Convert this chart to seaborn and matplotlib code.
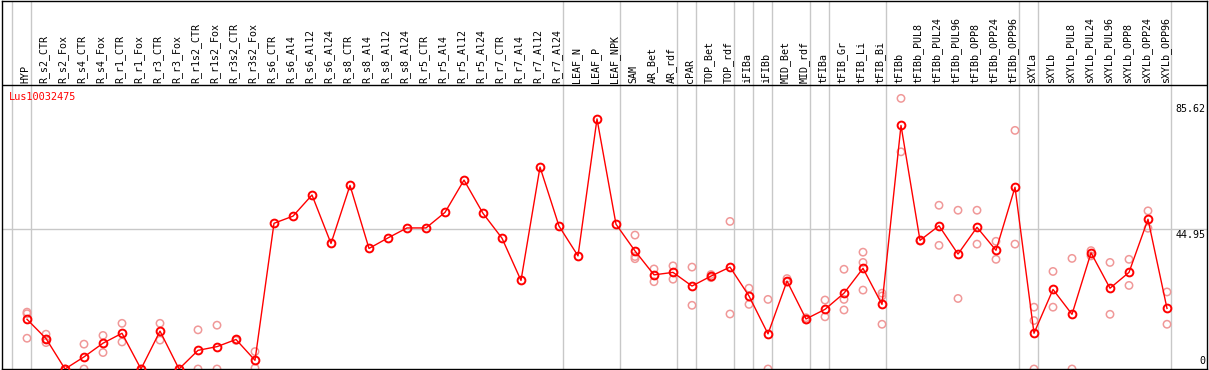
import matplotlib
matplotlib.use("Agg")
import matplotlib.pyplot as plt
import matplotlib.transforms as mtransforms
import numpy as np
import pandas as pd
import seaborn as sns

# ---------------- data ----------------
title = "Lus10032475"
samples = ["HYP", "R_s2_CTR", "R_s2_Fox", "R_s4_CTR", "R_s4_Fox", "R_r1_CTR", "R_r1_Fox",
           "R_r3_CTR", "R_r3_Fox", "R_r1s2_CTR", "R_r1s2_Fox", "R_r3s2_CTR", "R_r3s2_Fox",
           "R_s6_CTR", "R_s6_Al4", "R_s6_Al12", "R_s6_Al24", "R_s8_CTR", "R_s8_Al4",
           "R_s8_Al12", "R_s8_Al24", "R_r5_CTR", "R_r5_Al4", "R_r5_Al12", "R_r5_Al24",
           "R_r7_CTR", "R_r7_Al4", "R_r7_Al12", "R_r7_Al24", "LEAF_N", "LEAF_P", "LEAF_NPK",
           "SAM", "AR_Bet", "AR_rdf", "cPAR", "TOP_Bet", "TOP_rdf", "iFIBa", "iFIBb",
           "MID_Bet", "MID_rdf", "tFIBa", "tFIB_Gr", "tFIB_Li", "tFIB_Bi", "tFIBb",
           "tFIBb_PUL8", "tFIBb_PUL24", "tFIBb_PUL96", "tFIBb_OPP8", "tFIBb_OPP24",
           "tFIBb_OPP96", "sXYLa", "sXYLb", "sXYLb_PUL8", "sXYLb_PUL24", "sXYLb_PUL96",
           "sXYLb_OPP8", "sXYLb_OPP24", "sXYLb_OPP96"]

means = [16.0, 9.8, 0.0, 3.9, 8.3, 11.5, 0.0, 12.2, 0.0, 6.0, 7.2, 9.5, 2.8,
         46.9, 49.2, 56.0, 40.4, 59.1, 38.8, 42.2, 45.4, 45.4, 50.4, 60.8, 50.1,
         42.1, 28.5, 65.0, 46.0, 36.4, 80.5, 46.6,
         38.0, 30.3, 31.1, 26.7, 29.9, 32.8, 23.5, 11.3, 28.3, 16.1, 19.2, 24.4, 32.4, 20.8,
         78.4, 41.4, 46.1, 37.0, 45.6, 38.2, 58.5,
         11.5, 25.6, 17.6, 37.4, 26.0, 31.1, 48.2, 19.5]

replicates = [[18.3, 17.8, 9.9], [11.2, 9.6, 8.5], [0.0, 0.0], [8.0, 0.0], [10.8, 5.3],
              [14.7, 8.7], [0.0], [14.7, 9.3], [0.0], [12.6, 0.0], [14.1, 0.0], [9.2],
              [5.6, 0.3],
              [], [], [], [], [], [], [], [], [], [], [], [], [], [], [], [], [], [], [],
              [43.1, 36.2, 35.5], [32.2, 28.1], [33.2, 28.9], [32.8, 20.5], [30.4, 29.4],
              [47.5, 17.7], [26.0, 20.8], [22.4, 0.0], [29.1, 28.0], [16.5, 15.8],
              [22.2, 16.8], [32.1, 22.4, 19.0], [37.6, 34.3, 25.4], [24.4, 23.5, 14.4],
              [87.1, 69.9], [41.2], [52.7, 39.8], [51.1, 22.7], [51.1, 40.2], [41.1, 35.3],
              [76.8, 40.2],
              [19.9, 15.6, 0.0], [31.4, 19.9], [35.6, 0.0], [38.1, 36.4], [34.3, 17.6],
              [35.3, 26.9], [50.9, 45.3], [24.8, 14.4]]

group_ends = [-1, 0, 28, 31, 34, 35, 37, 38, 39, 41, 42, 45, 52, 53, 60]
ytick_values = [85.62, 44.95, 0]
ytick_labels = ["85.62", "44.95", "0"]

# ---------------- figure ----------------
W, H = 1209, 370
fig = plt.figure(figsize=(W / 100, H / 100), dpi=100)
plt.rcParams["font.family"] = ["DejaVu Sans Mono"]

ax = fig.add_axes([2 / W, 1 / H, 1205 / W, 368.5 / H])
px_per_unit = 3.107
ax.set_xlim((2 - 27) / 19, (1207 - 27) / 19)
ax.set_ylim(0, 368.5 / px_per_unit)
header_y = (369 - 85) / px_per_unit

idx = np.arange(len(samples))
df_mean = pd.DataFrame({"x": idx, "value": means})
rep_x = [i for i, r in enumerate(replicates) for _ in r]
rep_y = [v for r in replicates for v in r]
df_rep = pd.DataFrame({"x": rep_x, "value": rep_y})

# separators and grid
for g in group_ends:
    ax.axvline(g + 0.2, color="#c8c8c8", lw=1, zorder=0)
ax.plot([ax.get_xlim()[0], ax.get_xlim()[1]], [44.95, 44.95], color="#c8c8c8", lw=1, zorder=0)
ax.axhline(header_y, color="black", lw=1, zorder=3)

# replicates
sns.scatterplot(data=df_rep, x="x", y="value", ax=ax, marker="o", s=28,
                facecolors="none", edgecolors="#f09898", linewidths=1.1, zorder=2,
                legend=False)
# mean line
sns.lineplot(data=df_mean, x="x", y="value", ax=ax, color="red", lw=1, marker="o",
             markersize=5.6, markerfacecolor="none", markeredgecolor="red",
             markeredgewidth=1.4, zorder=4, legend=False)

# header labels
for i, lab in enumerate(samples):
    ax.text(i - 0.1, header_y + 0.7, lab, rotation=90, ha="center", va="bottom",
            fontsize=7.2, color="black", clip_on=False)

ax.text((9 - 27) / 19, (369 - 92) / px_per_unit, title, color="red", fontsize=7.4,
        ha="left", va="top")

trans = mtransforms.blended_transform_factory(ax.transAxes, ax.transData)
for v, lab in zip(ytick_values, ytick_labels):
    if v == 0:
        ax.text(1 - 1.5 / 1205, 1.0, lab, transform=trans, ha="right", va="bottom", fontsize=7.2)
    else:
        ax.text(1 - 1.5 / 1205, v - 0.3, lab, transform=trans, ha="right", va="top", fontsize=7.2)

ax.set_xticks([])
ax.set_yticks([])
ax.set_xlabel("")
ax.set_ylabel("")
for s in ax.spines.values():
    s.set_color("black")
    s.set_linewidth(1)

fig.savefig("out.png", dpi=100)
